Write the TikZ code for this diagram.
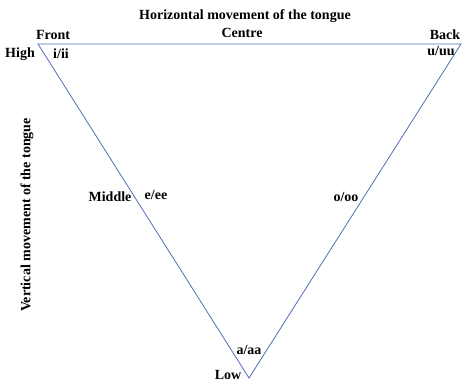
\documentclass[tikz,border=0pt]{standalone}
\usepackage{fontspec}
\setmainfont{Liberation Serif}
\definecolor{edge}{RGB}{80,110,180}
\begin{document}
\begin{tikzpicture}[x=1pt,y=-1pt,
  lbl/.style={font=\bfseries\fontsize{14}{16}\selectfont, inner sep=0pt, text=black},
  side/.style={draw=edge, line width=0.8pt, line join=miter}]
\useasboundingbox (0,0) rectangle (464,383);
\coordinate (tl) at (38,44);
\coordinate (tr) at (461,44);
\coordinate (bt) at (249,378);
\draw[side] (tl) -- (tr) -- (bt) -- cycle;
\node[lbl] (h) at (245,16) {Horizontal movement of the tongue};
\node[lbl] (front) at (53,35) {Front};
\node[lbl] (centre) at (242,33) {Centre};
\node[lbl] (back) at (445,35) {Back};
\node[lbl] (high) at (20,54) {High};
\node[lbl] (i) at (61,54) {i/ii};
\node[lbl] (u) at (441,51) {u/uu};
\node[lbl] (mid) at (110,197) {Middle};
\node[lbl] (e) at (156,195) {e/ee};
\node[lbl] (o) at (346,197) {o/oo};
\node[lbl] (a) at (249,350) {a/aa};
\node[lbl] (low) at (228,375) {Low};
\node[lbl, rotate=90] (v) at (27,215) {Vertical movement of the tongue};
\end{tikzpicture}
\end{document}
